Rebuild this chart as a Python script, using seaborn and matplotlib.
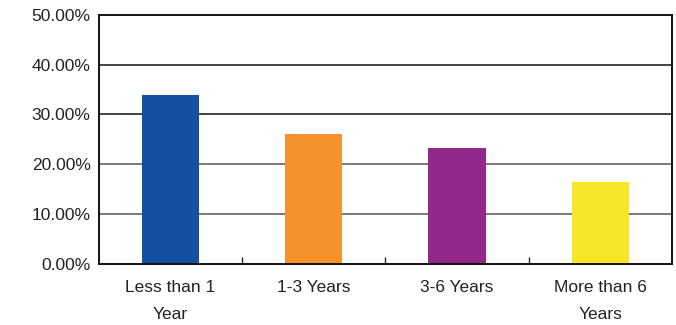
import matplotlib
matplotlib.use("Agg")
import matplotlib.pyplot as plt
import pandas as pd
import seaborn as sns
from matplotlib.ticker import FixedLocator, PercentFormatter

categories = ["Less than 1\nYear", "1-3 Years", "3-6 Years", "More than 6\nYears"]
shares = [34.0, 26.0, 23.2, 16.4]
colors = ["#1450a0", "#f5922a", "#93288b", "#f7e628"]
y_ticks = [0, 10, 20, 30, 40, 50]

df = pd.DataFrame({"tenure": categories, "share": shares})

sns.set_theme(style="white")
plt.rcParams["font.family"] = ["Liberation Sans", "DejaVu Sans"]

fig = plt.figure(figsize=(6.76, 3.25), dpi=100)
ax = fig.add_axes([0.1464, 0.189, 0.8476, 0.765])

sns.barplot(data=df, x="tenure", y="share", hue="tenure", palette=colors,
            width=0.4, legend=False, saturation=1, linewidth=0, ax=ax)

ax.set_ylim(0, 50)
ax.set_xlim(-0.5, 3.5)
ax.set_yticks(y_ticks)
ax.yaxis.set_major_formatter(PercentFormatter(decimals=2))
for y, c in zip(y_ticks[1:-1], ["#555555", "#555555", "#111111", "#111111"]):
    ax.axhline(y, color=c, lw=1.1, zorder=0)

ax.set_xlabel("")
ax.set_ylabel("")
for s in ax.spines.values():
    s.set_color("#111111")
    s.set_linewidth(1.4)

ax.xaxis.set_minor_locator(FixedLocator([0.5, 1.5, 2.5]))
ax.tick_params(axis="x", which="major", length=0, pad=12, labelsize=12.5, labelcolor="#222222")
ax.tick_params(axis="x", which="minor", bottom=True, direction="in", length=5, width=1, color="#222222")
ax.tick_params(axis="y", length=0, pad=6, labelsize=12.5, labelcolor="#222222")
for lab in ax.get_xticklabels():
    lab.set_linespacing(2.0)

fig.savefig("out.png", dpi=100)
